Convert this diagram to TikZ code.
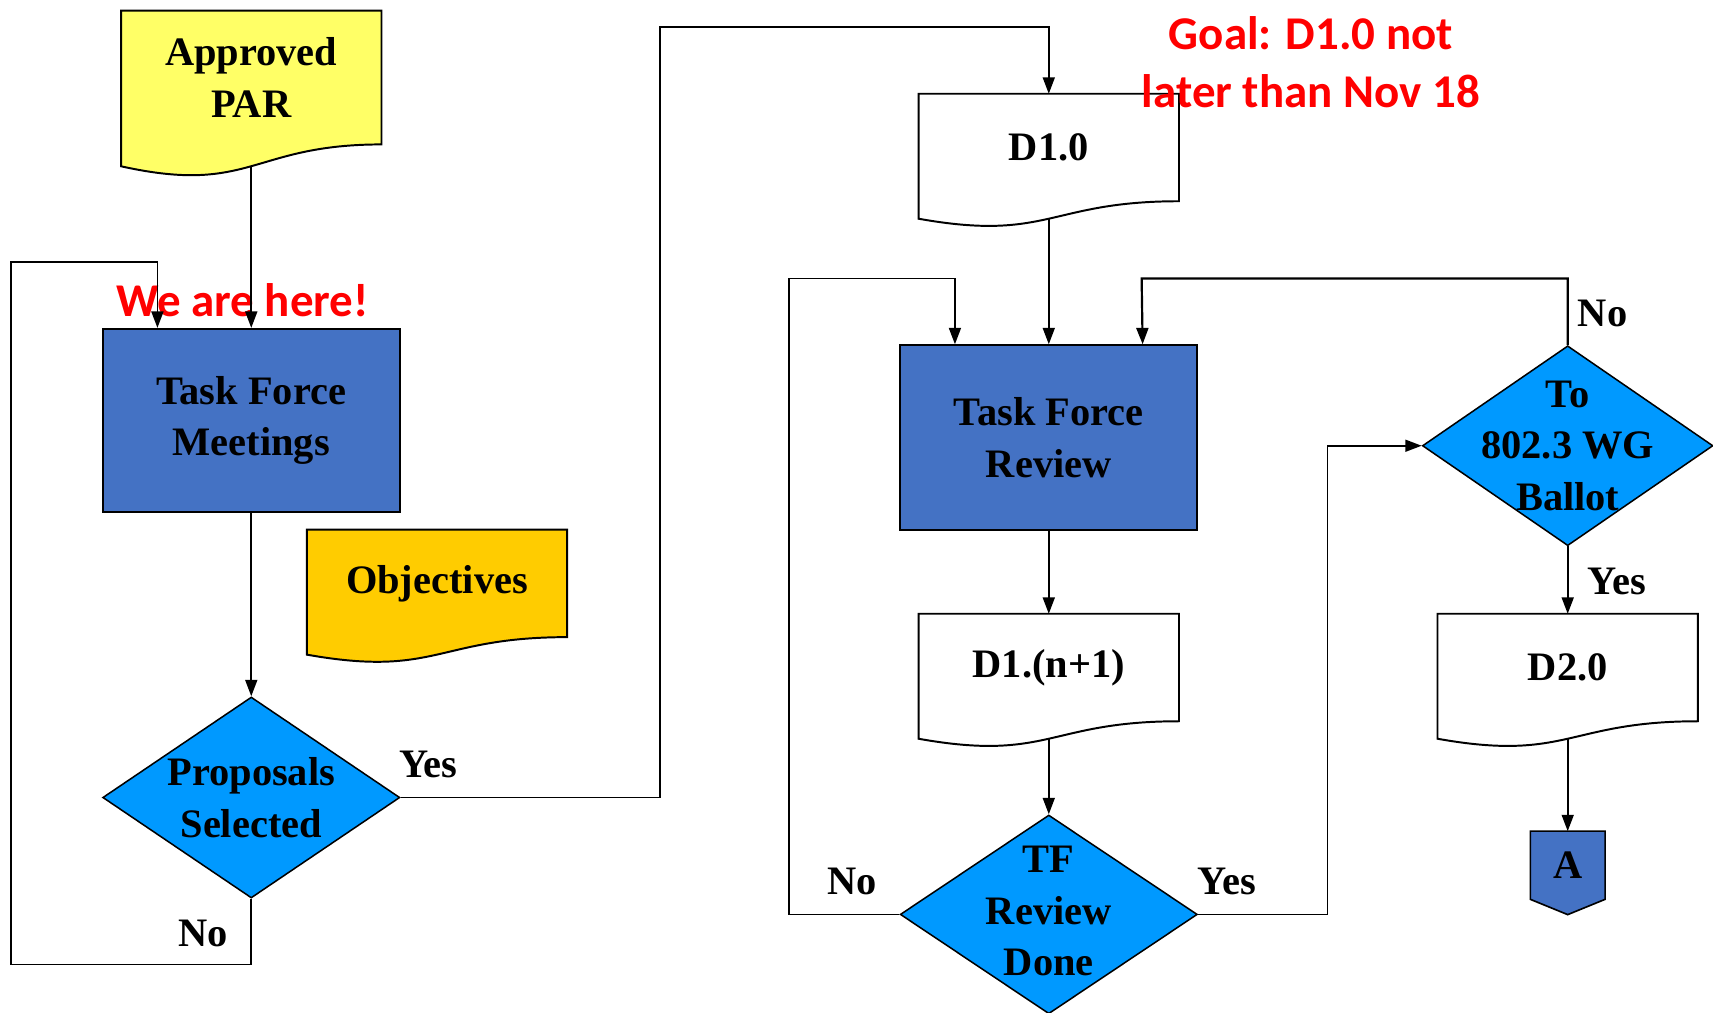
\documentclass[tikz,border=0pt]{standalone}
\usepackage{fontspec}
\setmainfont{Liberation Serif}
\newfontfamily\redfont{Carlito}
\usetikzlibrary{arrows.meta,shapes.geometric,calc,backgrounds}
\definecolor{parY}{HTML}{FFFF66}
\definecolor{objY}{HTML}{FFCC00}
\definecolor{boxB}{HTML}{4472C4}
\definecolor{diaB}{HTML}{0099FF}
\definecolor{redT}{HTML}{FF0000}
% #1 node name, #2 fill, #3 control drop, #4 left-end drop
\newcommand\docwave[4]{%
  \begin{scope}[on background layer]
    \path[draw=black,line width=1.8pt,fill=#2]
      (#1.north west) -- (#1.north east) -- (#1.south east)
      .. controls (#1.south) and ($(#1.south)+(0,-#3pt)$) ..
      ($(#1.south west)+(0,-#4pt)$) -- cycle;
  \end{scope}}
\begin{document}
\begin{tikzpicture}[x=1pt,y=-1pt,
  font=\bfseries\fontsize{37}{47}\selectfont,
  doc/.style={draw=none,minimum width=238pt,inner sep=0pt,align=center},
  box/.style={draw=black,line width=1.8pt,fill=boxB,minimum width=272pt,inner sep=0pt,align=center},
  dia/.style={diamond,draw=black,line width=1.4pt,fill=diaB,inner sep=0pt,minimum width=272pt,minimum height=184pt},
  arr/.style={-{Triangle[length=15pt,width=11pt]},line width=1.5pt},
  conn/.style={line width=1.5pt},
  lab/.style={inner sep=0pt},
  redtxt/.style={text=redT,font=\redfont\bfseries\fontsize{43}{53}\selectfont,align=center,inner sep=0pt}]
\useasboundingbox (0,0) rectangle (1568,927);

% document shapes
\node[doc,minimum height=122pt] (par) at (230,71) {Approved\\PAR};
\docwave{par}{parY}{46.5}{20}
\node[doc,minimum height=98pt] (obj) at (400,534) {Objectives};
\docwave{obj}{objY}{37.3}{16}
\node[doc,minimum height=98pt] (d10) at (960,135) {D1.0};
\docwave{d10}{white}{37.3}{16}
\node[doc,minimum height=98pt] (dn1) at (960,611) {D1.(n+1)};
\docwave{dn1}{white}{37.3}{16}
\node[doc,minimum height=98pt] (d20) at (1435,611) {D2.0};
\docwave{d20}{white}{37.3}{16}

% process boxes
\node[box,minimum height=168pt] (tfm) at (230,385) {Task Force\\Meetings};
\node[box,minimum height=169pt] (tfr) at (960,400.5) {Task Force\\Review};

% decisions
\node[dia,label={[align=center]center:Proposals\\Selected}] (ps) at (230,730) {};
\node[dia,minimum height=182pt,label={[align=center,yshift=3pt]center:TF\\Review\\Done}] (trd) at (960,837) {};
\node[dia,minimum width=266pt,minimum height=183pt,label={[align=center]center:To\\802.3 WG\\Ballot}] (wg) at (1435,408) {};

% off-page connector
\node[draw=none,minimum width=68pt,minimum height=62pt,inner sep=0pt] (A) at (1435,792) {A};
\begin{scope}[on background layer]
  \path[draw=black,line width=1.5pt,fill=boxB]
    (A.north west) -- (A.north east) -- (A.south east) -- ($(A.south)+(0,-14pt)$) -- (A.south west) -- cycle;
\end{scope}

% red notes
\node[redtxt] (here) at (222,275) {We are here!};
\node[redtxt] (goal) at (1200,57) {Goal: D1.0 not\\later than Nov 18};

% labels
\node[lab] (ly1) at (392,700) {Yes};
\node[lab] (ln1) at (186,854) {No};
\node[lab] (ln2) at (780,807) {No};
\node[lab] (ly2) at (1123,807) {Yes};
\node[lab] (ln3) at (1467,287) {No};
\node[lab] (ly3) at (1480,532) {Yes};

% helper coordinates
\coordinate (parB) at ($(par.south)+(0,-20pt)$);
\coordinate (d10B) at ($(d10.south)+(0,-16pt)$);
\coordinate (dn1B) at ($(dn1.south)+(0,-16pt)$);
\coordinate (d20B) at ($(d20.south)+(0,-16pt)$);
\coordinate (y1) at (604,25);
\coordinate (n1) at (10,883);
\coordinate (n2) at (10,240);
\coordinate (n3) at (722,255);
\coordinate (y2) at (1215,408);
\coordinate (n4) at (1045,255);

% connectors
\draw[arr] (parB) -- (tfm.north);
\draw[arr] (tfm.south) -- (ps.north);
\draw[arr] (ps.east) -| (y1) -| (d10.north);
\draw[arr] (ps.south) |- (n1) -- (n2) -| ([xshift=51pt]tfm.north west);
\draw[arr] (d10B) -- (tfr.north);
\draw[arr] (tfr.south) -- (dn1.north);
\draw[arr] (dn1B) -- (trd.north);
\draw[arr] (trd.west) -| (n3) -| ([xshift=51pt]tfr.north west);
\draw[arr] (trd.east) -| (y2) -- (wg.west);
\draw[arr,line width=2pt] (wg.north) |- (n4) -- ([xshift=-51pt]tfr.north east);
\draw[arr] (wg.south) -- (d20.north);
\draw[arr] (d20B) -- (A.north);
\end{tikzpicture}
\end{document}
